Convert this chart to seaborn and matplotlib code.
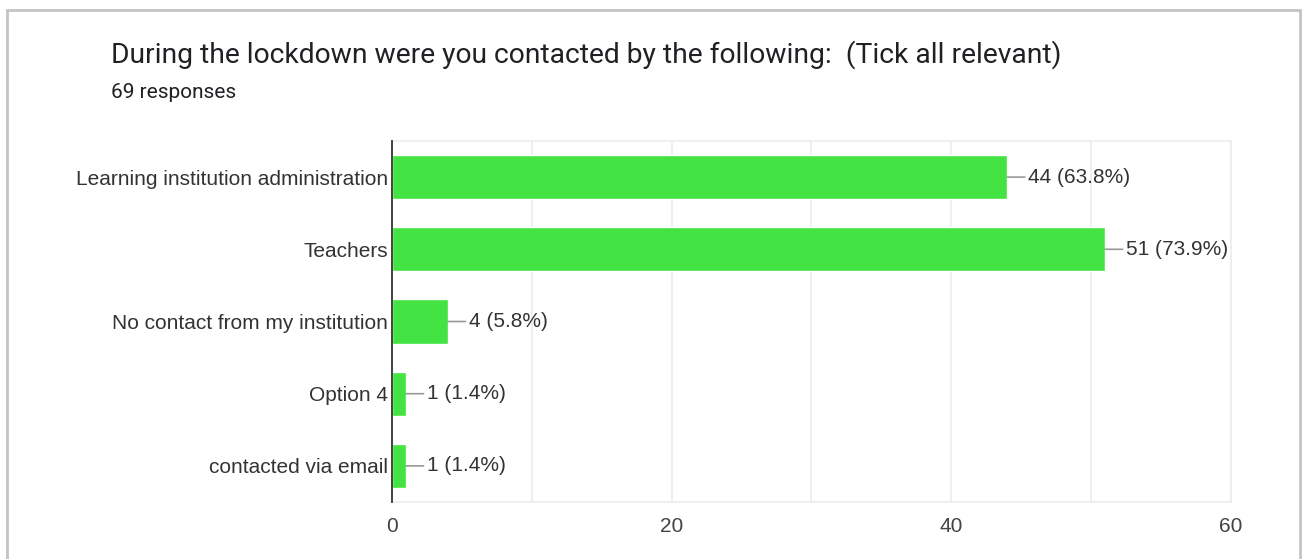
import matplotlib
matplotlib.use("Agg")
import matplotlib.pyplot as plt
import seaborn as sns
import pandas as pd
from matplotlib.patches import Rectangle

# data
categories = [
    "Learning institution administration",
    "Teachers",
    "No contact from my institution",
    "Option 4",
    "contacted via email",
]
counts = [44, 51, 4, 1, 1]
percents = [63.8, 73.9, 5.8, 1.4, 1.4]
x_ticks = [0, 20, 40, 60]
x_minor = [10, 30, 50]

title = "During the lockdown were you contacted by the following:  (Tick all relevant)"
subtitle = "69 responses"

sns.set_theme(style="white")
plt.rcParams['font.family'] = ['Liberation Sans', 'DejaVu Sans']

df = pd.DataFrame({"option": categories, "count": counts})

fig = plt.figure(figsize=(13.03, 5.59), dpi=100)
ax = fig.add_axes([392 / 1303, 1 - 502 / 559, (1231 - 392) / 1303, (502 - 141) / 559])

sns.barplot(data=df, y="option", x="count", orient="h", color="#42e342",
            saturation=1, width=0.61, ax=ax, zorder=3)

ax.set_xlim(0, 60)
ax.set_xticks(x_ticks)
ax.set_xticks(x_minor, minor=True)
ax.grid(axis="x", which="both", color="#ececec", linewidth=1.2, zorder=0)
ax.set_xlabel("")
ax.set_ylabel("")
ax.tick_params(axis="both", which="both", length=0)
ax.tick_params(axis="x", pad=11, labelsize=15, labelcolor="#444444")
ax.tick_params(axis="y", pad=3, labelsize=15, labelcolor="#333333")

for side in ["top", "bottom", "right"]:
    ax.spines[side].set_color("#ececec")
    ax.spines[side].set_linewidth(1.2)
ax.spines["left"].set_color("#333333")
ax.spines["left"].set_linewidth(1.3)
ax.spines["left"].set_zorder(5)

# value labels with a short leader line
for i, (c, p) in enumerate(zip(counts, percents)):
    ax.annotate(f"{c} ({p}%)", xy=(c, i), xytext=(15, 0), textcoords="offset points",
                ha="left", va="center", fontsize=15, color="#333333",
                arrowprops=dict(arrowstyle="-", color="#999999", lw=1.2,
                                shrinkA=0, shrinkB=0, relpos=(0, 0.5)))

# card border
fig.patches.append(Rectangle((7 / 1303, -0.05), (1300 - 7) / 1303, 1.05 - 10 / 559,
                             transform=fig.transFigure, fill=False,
                             edgecolor="#c4c4c4", linewidth=2))

fig.text(111 / 1303, 1 - 55 / 559, title, fontsize=20.3, color="#202124",
         ha="left", va="center", family=["Roboto", "DejaVu Sans"])
fig.text(111 / 1303, 1 - 92 / 559, subtitle, fontsize=15, color="#202124",
         ha="left", va="center", family=["Roboto", "DejaVu Sans"])

fig.savefig("out.png", dpi=100, facecolor="white")
